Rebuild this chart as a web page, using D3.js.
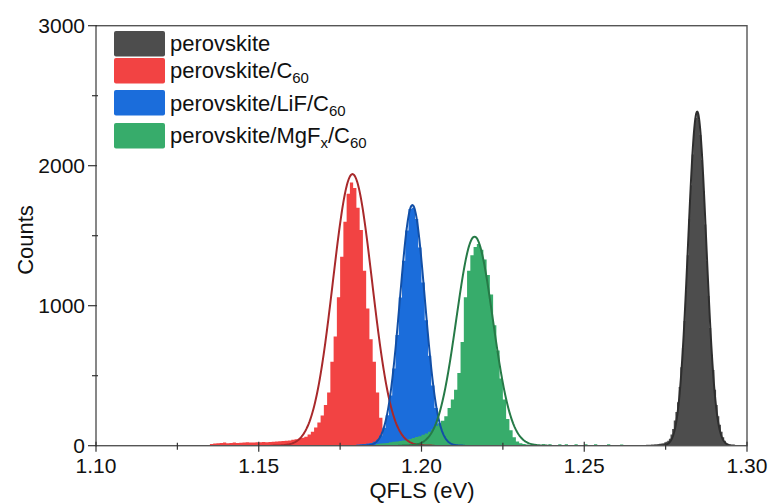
<!DOCTYPE html>
<html><head><meta charset="utf-8">
<script src="https://cdn.jsdelivr.net/npm/d3@7/dist/d3.min.js"></script>
<style>body{margin:0;background:#fff}svg{display:block;font-family:"Liberation Sans",Arial,sans-serif}</style>
</head><body><svg id="c" width="771" height="504"></svg>
<script>
// ---- data ----
const seriesNames = ["perovskite", "perovskite/C60", "perovskite/LiF/C60", "perovskite/MgFx/C60"];
const fillColors = ["#4d4d4d", "#f24343", "#1b6ddb", "#37ac6b"];
const fitColors  = ["#2e2e2e", "#a8292b", "#124fa6", "#267a47"];
const binStart = [1.267, 1.134, 1.180, 1.186];
const binWidth = [0.0005, 0.001, 0.001, 0.001];
const countsPerovskite = [3,4,5,4,6,6,7,8,9,10,11,12,14,16,18,22,28,36,50,80,120,180,240,310,420,560,700,890,1110,1360,1620,1860,2080,2240,2340,2380,2330,2220,2040,1820,1580,1320,1070,840,650,540,400,290,210,150,100,60,35,18,8,3];
const countsC60 = [5,12,15,18,20,22,18,20,22,20,21,22,24,22,23,25,24,26,25,27,28,30,32,34,36,38,42,46,50,56,64,80,100,130,165,215,290,380,600,780,1060,1350,1600,1800,1880,1840,1700,1540,1250,980,760,600,380,200,60,10];
const countsLiF = [8,10,12,15,20,28,42,72,128,218,359,552,791,1058,1321,1538,1690,1700,1620,1416,1166,896,643,430,269,157,85,43,20,9];
const countsMgFx = [12,16,18,20,24,28,30,34,38,42,48,55,62,68,78,88,100,118,140,160,178,210,270,330,400,520,740,1060,1250,1360,1420,1440,1400,1330,1220,1080,860,680,480,330,190,110,60,30,18,12,8,6,4,3,0,10,0,10,0,0,10,0,10,0,0,10,0,0,10,0,0,10,0,0,0,10,0,0,0,8,0,0];
const allCounts = [countsPerovskite, countsC60, countsLiF, countsMgFx];
// Gaussian fit parameters (amplitude, centre, sigma)
const fitAmp    = [2386, 1940, 1719, 1493];
const fitCenter = [1.2847, 1.1788, 1.1972, 1.2163];
const fitSigma  = [0.0028, 0.0060, 0.00385, 0.0056];
const xTicks = [1.10, 1.15, 1.20, 1.25, 1.30];
const yTicks = [0, 1000, 2000, 3000];

// ---- layout ----
const L = 96, R = 747, T = 25.7, B = 445.7;
const svg = d3.select("#c");
const x = d3.scaleLinear().domain([1.10, 1.30]).range([L, R]);
const y = d3.scaleLinear().domain([0, 3000]).range([B, T]);

svg.append("clipPath").attr("id","pc").append("rect")
  .attr("x", L).attr("y", T).attr("width", R-L).attr("height", B-T);
const g = svg.append("g").attr("clip-path","url(#pc)");

// histograms
allCounts.forEach((counts, s) => {
  const pts = counts.map((c, i) => [binStart[s] + i*binWidth[s], c]);
  pts.push([binStart[s] + counts.length*binWidth[s], counts[counts.length-1]]);
  const area = d3.area().curve(d3.curveStepAfter)
    .x(d => x(d[0])).y0(y(0)).y1(d => y(d[1]));
  g.append("path").datum(pts).attr("d", area).attr("fill", fillColors[s]);
});

// fits
fitAmp.forEach((A, s) => {
  const mu = fitCenter[s], sg = fitSigma[s];
  const xs = d3.range(mu - 4.2*sg, mu + 4.2*sg, sg/25);
  const line = d3.line().x(v => x(v)).y(v => y(A*Math.exp(-((v-mu)**2)/(2*sg*sg))));
  g.append("path").datum(xs).attr("d", line).attr("fill","none")
    .attr("stroke", fitColors[s]).attr("stroke-width", 2);
});

// frame
const axCol = "#555";
svg.append("rect").attr("x", L).attr("y", T).attr("width", R-L).attr("height", B-T)
  .attr("fill","none").attr("stroke", axCol).attr("stroke-width", 1.4);

// x axis
const xMinor = d3.range(1.125, 1.30, 0.05);
svg.append("g").selectAll("line").data(xTicks).join("line")
  .attr("x1", d => x(d)).attr("x2", d => x(d)).attr("y1", B-4).attr("y2", B+6)
  .attr("stroke", "#333").attr("stroke-width", 1.2);
svg.append("g").selectAll("line").data(xMinor).join("line")
  .attr("x1", d => x(d)).attr("x2", d => x(d)).attr("y1", B-3).attr("y2", B+4)
  .attr("stroke", "#333").attr("stroke-width", 1.2);
svg.append("g").selectAll("text").data(xTicks).join("text")
  .attr("x", d => x(d)).attr("y", 473).attr("text-anchor","middle")
  .attr("font-size", 21).attr("fill","#111").text(d => d3.format(".2f")(d));

// y axis
const yMinor = d3.range(500, 3000, 1000);
svg.append("g").selectAll("line").data(yTicks).join("line")
  .attr("x1", L-8).attr("x2", L+1).attr("y1", d => y(d)).attr("y2", d => y(d))
  .attr("stroke", "#333").attr("stroke-width", 1.2);
svg.append("g").selectAll("line").data(yMinor).join("line")
  .attr("x1", L-4).attr("x2", L+2).attr("y1", d => y(d)).attr("y2", d => y(d))
  .attr("stroke", "#333").attr("stroke-width", 1.2);
svg.append("g").selectAll("text").data(yTicks).join("text")
  .attr("x", L-11).attr("y", d => y(d)+7.5).attr("text-anchor","end")
  .attr("font-size", 21).attr("fill","#111").text(d => d);

svg.append("text").attr("x", 422).attr("y", 498).attr("text-anchor","middle")
  .attr("font-size", 22).attr("fill","#111").text("QFLS (eV)");
svg.append("text").attr("transform", "translate(33,240) rotate(-90)")
  .attr("text-anchor","middle").attr("font-size", 22).attr("fill","#111").text("Counts");

// legend
const legRows = [
  {y0: 31, base: 51, parts: [["perovskite", false]]},
  {y0: 58, base: 78, parts: [["perovskite/C", false], ["60", true]]},
  {y0: 90, base: 111, parts: [["perovskite/LiF/C", false], ["60", true]]},
  {y0: 123, base: 143, parts: [["perovskite/MgF", false], ["x", true], ["/C", false], ["60", true]]}
];
legRows.forEach((r, i) => {
  svg.append("rect").attr("x", 114).attr("y", r.y0).attr("width", 51).attr("height", 25.5)
    .attr("rx", 2).attr("fill", fillColors[i]);
  const t = svg.append("text").attr("x", 170).attr("y", r.base).attr("font-size", 22).attr("fill","#111");
  let sub = false;
  r.parts.forEach(([txt, isSub]) => {
    const ts = t.append("tspan").text(txt);
    if (isSub && !sub) { ts.attr("dy", 5).attr("font-size", 15); sub = true; }
    else if (isSub && sub) { ts.attr("font-size", 15); }
    else if (!isSub && sub) { ts.attr("dy", -5); sub = false; }
  });
});
</script></body></html>
